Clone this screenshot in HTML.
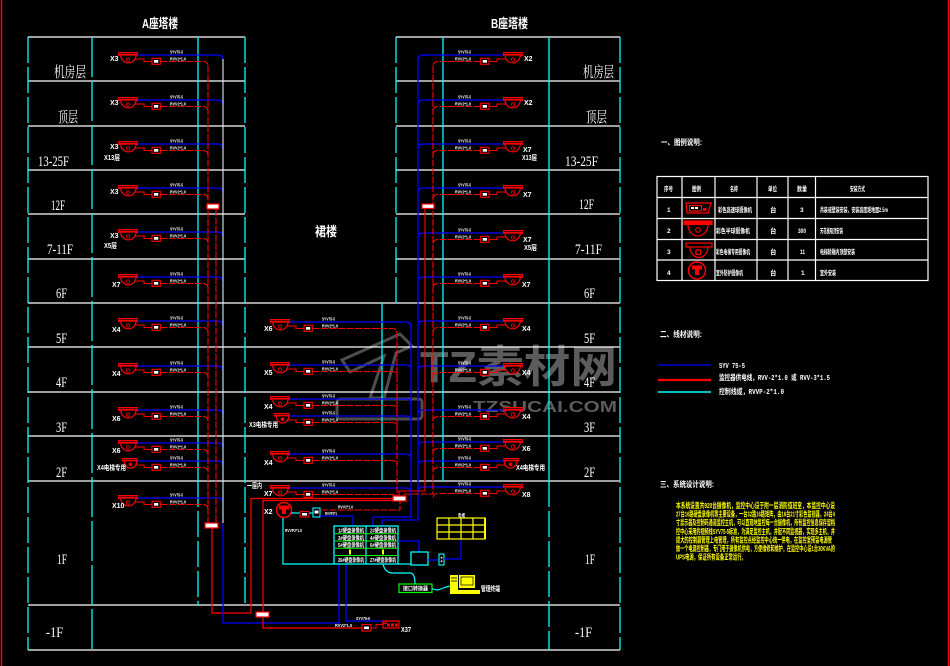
<!DOCTYPE html>
<html><head><meta charset="utf-8"><title>监控系统图</title>
<style>
html,body{margin:0;padding:0;background:#000;width:950px;height:666px;overflow:hidden}
svg{display:block}
.fl{font-family:"Liberation Serif","Noto Serif CJK SC",serif;font-size:15px;fill:#fff}
.ti{font-family:"Liberation Sans","Noto Sans CJK SC",sans-serif;font-size:13px;font-weight:bold;fill:#fff}
.xl{font-family:"Liberation Sans","Noto Sans CJK SC",sans-serif;font-size:7px;font-weight:bold;fill:#fff}
.t{font-family:"Liberation Sans","Noto Sans CJK SC",sans-serif;font-size:4.5px;font-weight:bold;fill:#fff}
.tt{font-family:"Liberation Sans","Noto Sans CJK SC",sans-serif;font-size:6.5px;font-weight:bold;fill:#fff}
.h{font-family:"Liberation Sans","Noto Sans CJK SC",sans-serif;font-size:8px;font-weight:bold;fill:#fff}
.lg{font-family:"Liberation Mono","Noto Sans CJK SC",monospace;font-size:7.5px;font-weight:bold;fill:#fff}
.yp{font-family:"Liberation Sans","Noto Sans CJK SC",sans-serif;font-size:7.5px;font-weight:bold;fill:#ff0}
.wm{font-family:"Liberation Sans","Noto Sans CJK SC",sans-serif;font-weight:bold;fill:#5c5c5c}
</style></head>
<body>
<svg width="950" height="666" viewBox="0 0 950 666" xmlns="http://www.w3.org/2000/svg">
<rect width="950" height="666" fill="#000"/>
<defs>
<g id="cam">
 <rect x="0" y="0" width="20" height="3.8" fill="#f00"/>
 <line x1="0.5" y1="1.6" x2="19.5" y2="1.6" stroke="#000" stroke-width="0.6"/>
 <path d="M2.7,3.8 A7.7,8 0 0 0 18,3.8" fill="#000" stroke="#f00" stroke-width="1.2"/>
 <circle cx="10" cy="7.5" r="1.7" fill="none" stroke="#f00" stroke-width="0.8"/>
 <path d="M17,7 H26 V9.5 H34" fill="none" stroke="#f00" stroke-width="1"/>
 <rect x="34" y="6.3" width="8.3" height="6" fill="#000" stroke="#f00" stroke-width="1.1"/>
 <rect x="36" y="8" width="4.3" height="2.7" fill="#fff"/>
</g>
<g id="camE">
 <rect x="3.7" y="0" width="16" height="3.4" fill="#f00"/>
 <line x1="4.2" y1="1.5" x2="19.2" y2="1.5" stroke="#000" stroke-width="0.6"/>
 <path d="M6.3,3.4 A6.2,6.6 0 0 0 18.7,3.4" fill="#000" stroke="#f00" stroke-width="1.2"/>
 <circle cx="12.5" cy="6.3" r="1.8" fill="#f00"/>
 <path d="M18,7 H26 V9.5 H34" fill="none" stroke="#f00" stroke-width="1"/>
 <rect x="34" y="6.3" width="8.3" height="6" fill="#000" stroke="#f00" stroke-width="1.1"/>
 <rect x="36" y="8" width="4.3" height="2.7" fill="#fff"/>
</g>
<g id="rowL"><use href="#cam" x="118"/><path d="M138,3 H218 Q223,3 223,8" stroke="#00f" fill="none" stroke-width="1.3"/><path d="M160.5,9.5 H203 Q208,9.5 208,14.5" stroke="#f00" fill="none" stroke-width="1.1" stroke-dasharray="7 1.5"/></g>
<g id="rowLE"><use href="#camE" x="118"/><path d="M138,3 H218 Q223,3 223,8" stroke="#00f" fill="none" stroke-width="1.3"/><path d="M160.5,9.5 H203 Q208,9.5 208,14.5" stroke="#f00" fill="none" stroke-width="1.1" stroke-dasharray="7 1.5"/></g>
<g id="rowM"><use href="#cam" x="270"/><path d="M290,3 H406 Q411,3 411,8" stroke="#00f" fill="none" stroke-width="1.3"/><path d="M312.5,9.5 H392 Q397,9.5 397,14.5" stroke="#f00" fill="none" stroke-width="1.1" stroke-dasharray="7 1.5"/></g>
<g id="rowME"><use href="#camE" x="270"/><path d="M290,3 H406 Q411,3 411,8" stroke="#00f" fill="none" stroke-width="1.3"/><path d="M312.5,9.5 H392 Q397,9.5 397,14.5" stroke="#f00" fill="none" stroke-width="1.1" stroke-dasharray="7 1.5"/></g>
</defs>

<!-- watermark (behind) -->
<g fill="none" stroke="#4e4e4e" stroke-width="3">
 <polygon points="342,360 400,334 412,346 396,353 384,398 370,398 384,356 350,372"/>
 <rect x="337" y="399" width="85" height="20" rx="3"/>
</g>
<text class="wm" x="420" y="382" font-size="44" textLength="197" lengthAdjust="spacingAndGlyphs">TZ素材网</text>
<text class="wm" x="473" y="412" font-size="16" textLength="144" lengthAdjust="spacingAndGlyphs">TZSUCAI.COM</text>

<!-- outer red border lines -->
<line x1="1.5" y1="0" x2="1.5" y2="666" stroke="#f00" stroke-width="1.5"/>
<line x1="948.5" y1="0" x2="948.5" y2="666" stroke="#f00" stroke-width="1.5"/>

<!-- white floor lines -->
<g stroke="#fff" stroke-width="1.2">
 <line x1="28" y1="37" x2="245" y2="37"/><line x1="28" y1="81" x2="245" y2="81"/>
 <line x1="28" y1="126" x2="245" y2="126"/><line x1="28" y1="170" x2="245" y2="170"/>
 <line x1="28" y1="214" x2="245" y2="214"/><line x1="28" y1="259" x2="245" y2="259"/>
 <line x1="396" y1="37" x2="620" y2="37"/><line x1="396" y1="81" x2="620" y2="81"/>
 <line x1="396" y1="126" x2="620" y2="126"/><line x1="396" y1="170" x2="620" y2="170"/>
 <line x1="396" y1="214" x2="620" y2="214"/><line x1="396" y1="259" x2="620" y2="259"/>
 <line x1="28" y1="303" x2="620" y2="303"/><line x1="28" y1="347" x2="620" y2="347"/>
 <line x1="28" y1="392" x2="620" y2="392"/><line x1="28" y1="436" x2="620" y2="436"/>
 <line x1="28" y1="481" x2="620" y2="481"/><line x1="28" y1="605" x2="620" y2="605"/>
 <line x1="28" y1="650" x2="620" y2="650"/>
</g>

<!-- cyan columns -->
<g stroke="#0ff" stroke-width="1.3" fill="none">
 <line x1="28" y1="37" x2="28" y2="650" stroke-dasharray="26 4"/>
 <line x1="92" y1="37" x2="92" y2="650" stroke-dasharray="40 4"/>
 <line x1="198" y1="37" x2="198" y2="481"/>
 <line x1="198" y1="481" x2="198" y2="605" stroke-dasharray="26 4"/>
 <line x1="245" y1="37" x2="245" y2="605" stroke-dasharray="26 4"/>
 <line x1="382" y1="303" x2="382" y2="481"/>
 <line x1="396" y1="37" x2="396" y2="303" stroke-dasharray="26 4"/>
 <line x1="443" y1="37" x2="443" y2="481"/>
 <line x1="549" y1="37" x2="549" y2="481"/>
 <line x1="549" y1="481" x2="549" y2="650" stroke-dasharray="26 4"/>
 <line x1="620" y1="37" x2="620" y2="650" stroke-dasharray="26 4"/>
</g>

<!-- titles -->
<text class="ti" x="142" y="28" textLength="36" lengthAdjust="spacingAndGlyphs">A座塔楼</text>
<text class="ti" x="491" y="28" textLength="37" lengthAdjust="spacingAndGlyphs">B座塔楼</text>
<text class="ti" x="315" y="236" textLength="22" lengthAdjust="spacingAndGlyphs">裙楼</text>

<!-- floor labels left -->
<text class="fl" x="54" y="77" textLength="32" lengthAdjust="spacingAndGlyphs">机房层</text>
<text class="fl" x="58" y="122" textLength="20" lengthAdjust="spacingAndGlyphs">顶层</text>
<text class="fl" x="38" y="166" textLength="31" lengthAdjust="spacingAndGlyphs">13-25F</text>
<text class="fl" x="51" y="210" textLength="14" lengthAdjust="spacingAndGlyphs">12F</text>
<text class="fl" x="47" y="254" textLength="26" lengthAdjust="spacingAndGlyphs">7-11F</text>
<text class="fl" x="56" y="298" textLength="11" lengthAdjust="spacingAndGlyphs">6F</text>
<text class="fl" x="56" y="343" textLength="11" lengthAdjust="spacingAndGlyphs">5F</text>
<text class="fl" x="56" y="387" textLength="11" lengthAdjust="spacingAndGlyphs">4F</text>
<text class="fl" x="56" y="432" textLength="11" lengthAdjust="spacingAndGlyphs">3F</text>
<text class="fl" x="56" y="477" textLength="11" lengthAdjust="spacingAndGlyphs">2F</text>
<text class="fl" x="57" y="564" textLength="10" lengthAdjust="spacingAndGlyphs">1F</text>
<text class="fl" x="46" y="637" textLength="17" lengthAdjust="spacingAndGlyphs">-1F</text>
<!-- floor labels right -->
<text class="fl" x="583" y="77" textLength="31" lengthAdjust="spacingAndGlyphs">机房层</text>
<text class="fl" x="586" y="122" textLength="21" lengthAdjust="spacingAndGlyphs">顶层</text>
<text class="fl" x="565" y="166" textLength="33" lengthAdjust="spacingAndGlyphs">13-25F</text>
<text class="fl" x="579" y="209" textLength="15" lengthAdjust="spacingAndGlyphs">12F</text>
<text class="fl" x="575" y="254" textLength="27" lengthAdjust="spacingAndGlyphs">7-11F</text>
<text class="fl" x="584" y="298" textLength="11" lengthAdjust="spacingAndGlyphs">6F</text>
<text class="fl" x="584" y="343" textLength="11" lengthAdjust="spacingAndGlyphs">5F</text>
<text class="fl" x="584" y="387" textLength="11" lengthAdjust="spacingAndGlyphs">4F</text>
<text class="fl" x="584" y="432" textLength="11" lengthAdjust="spacingAndGlyphs">3F</text>
<text class="fl" x="584" y="477" textLength="11" lengthAdjust="spacingAndGlyphs">2F</text>
<text class="fl" x="585" y="564" textLength="10" lengthAdjust="spacingAndGlyphs">1F</text>
<text class="fl" x="575" y="637" textLength="17" lengthAdjust="spacingAndGlyphs">-1F</text>

<!-- left tower rows -->
<use href="#rowL" y="52"/><use href="#rowL" y="97"/><use href="#rowL" y="141"/>
<use href="#rowL" y="185"/><use href="#rowL" y="229"/><use href="#rowL" y="274"/>
<use href="#rowL" y="318"/><use href="#rowL" y="363"/><use href="#rowL" y="407"/>
<use href="#rowL" y="440"/><use href="#rowLE" y="458"/><use href="#rowL" y="495"/>

<!-- B tower rows (mirrored) -->
<g transform="translate(641,0) scale(-1,1)">
<use href="#rowL" y="52"/><use href="#rowL" y="97"/><use href="#rowL" y="141"/>
<use href="#rowL" y="185"/><use href="#rowL" y="230"/><use href="#rowL" y="274"/>
<use href="#rowL" y="318"/><use href="#rowL" y="363"/><use href="#rowL" y="407"/>
<use href="#rowL" y="439"/><use href="#rowLE" y="458"/><use href="#rowL" y="484"/>
</g>

<!-- middle rows -->
<use href="#rowM" y="319"/><use href="#rowM" y="362"/><use href="#rowM" y="396"/>
<use href="#rowME" y="413"/><use href="#rowM" y="451"/><use href="#rowM" y="485"/>

<!-- tiny cable labels -->
<g class="t">
<text x="170" y="53.5" textLength="13" lengthAdjust="spacingAndGlyphs">SYV75-5</text><text x="170" y="60.7" textLength="16" lengthAdjust="spacingAndGlyphs">RVV2*1.0</text>
<text x="170" y="98.5" textLength="13" lengthAdjust="spacingAndGlyphs">SYV75-5</text><text x="170" y="105.7" textLength="16" lengthAdjust="spacingAndGlyphs">RVV2*1.0</text>
<text x="170" y="142.5" textLength="13" lengthAdjust="spacingAndGlyphs">SYV75-5</text><text x="170" y="149.7" textLength="16" lengthAdjust="spacingAndGlyphs">RVV2*1.0</text>
<text x="170" y="186.5" textLength="13" lengthAdjust="spacingAndGlyphs">SYV75-5</text><text x="170" y="193.7" textLength="16" lengthAdjust="spacingAndGlyphs">RVV2*1.0</text>
<text x="170" y="230.5" textLength="13" lengthAdjust="spacingAndGlyphs">SYV75-5</text><text x="170" y="237.7" textLength="16" lengthAdjust="spacingAndGlyphs">RVV2*1.0</text>
<text x="170" y="275.5" textLength="13" lengthAdjust="spacingAndGlyphs">SYV75-5</text><text x="170" y="282.7" textLength="16" lengthAdjust="spacingAndGlyphs">RVV2*1.0</text>
<text x="170" y="319.5" textLength="13" lengthAdjust="spacingAndGlyphs">SYV75-5</text><text x="170" y="326.7" textLength="16" lengthAdjust="spacingAndGlyphs">RVV2*1.0</text>
<text x="170" y="364.5" textLength="13" lengthAdjust="spacingAndGlyphs">SYV75-5</text><text x="170" y="371.7" textLength="16" lengthAdjust="spacingAndGlyphs">RVV2*1.0</text>
<text x="170" y="408.5" textLength="13" lengthAdjust="spacingAndGlyphs">SYV75-5</text><text x="170" y="415.7" textLength="16" lengthAdjust="spacingAndGlyphs">RVV2*1.0</text>
<text x="170" y="441.5" textLength="13" lengthAdjust="spacingAndGlyphs">SYV75-5</text><text x="170" y="448.7" textLength="16" lengthAdjust="spacingAndGlyphs">RVV2*1.0</text>
<text x="170" y="459.5" textLength="13" lengthAdjust="spacingAndGlyphs">SYV75-5</text><text x="170" y="466.7" textLength="16" lengthAdjust="spacingAndGlyphs">RVV2*1.0</text>
<text x="170" y="496.5" textLength="13" lengthAdjust="spacingAndGlyphs">SYV75-5</text><text x="170" y="503.7" textLength="16" lengthAdjust="spacingAndGlyphs">RVV2*1.0</text>

<text x="458" y="53.5" textLength="13" lengthAdjust="spacingAndGlyphs">SYV75-5</text><text x="455" y="60.7" textLength="16" lengthAdjust="spacingAndGlyphs">RVV2*1.0</text>
<text x="458" y="98.5" textLength="13" lengthAdjust="spacingAndGlyphs">SYV75-5</text><text x="455" y="105.7" textLength="16" lengthAdjust="spacingAndGlyphs">RVV2*1.0</text>
<text x="458" y="142.5" textLength="13" lengthAdjust="spacingAndGlyphs">SYV75-5</text><text x="455" y="149.7" textLength="16" lengthAdjust="spacingAndGlyphs">RVV2*1.0</text>
<text x="458" y="186.5" textLength="13" lengthAdjust="spacingAndGlyphs">SYV75-5</text><text x="455" y="193.7" textLength="16" lengthAdjust="spacingAndGlyphs">RVV2*1.0</text>
<text x="458" y="231.5" textLength="13" lengthAdjust="spacingAndGlyphs">SYV75-5</text><text x="455" y="238.7" textLength="16" lengthAdjust="spacingAndGlyphs">RVV2*1.0</text>
<text x="458" y="275.5" textLength="13" lengthAdjust="spacingAndGlyphs">SYV75-5</text><text x="455" y="282.7" textLength="16" lengthAdjust="spacingAndGlyphs">RVV2*1.0</text>
<text x="458" y="319.5" textLength="13" lengthAdjust="spacingAndGlyphs">SYV75-5</text><text x="455" y="326.7" textLength="16" lengthAdjust="spacingAndGlyphs">RVV2*1.0</text>
<text x="458" y="364.5" textLength="13" lengthAdjust="spacingAndGlyphs">SYV75-5</text><text x="455" y="371.7" textLength="16" lengthAdjust="spacingAndGlyphs">RVV2*1.0</text>
<text x="458" y="408.5" textLength="13" lengthAdjust="spacingAndGlyphs">SYV75-5</text><text x="455" y="415.7" textLength="16" lengthAdjust="spacingAndGlyphs">RVV2*1.0</text>
<text x="458" y="440.5" textLength="13" lengthAdjust="spacingAndGlyphs">SYV75-5</text><text x="455" y="447.7" textLength="16" lengthAdjust="spacingAndGlyphs">RVV2*1.0</text>
<text x="458" y="459.5" textLength="13" lengthAdjust="spacingAndGlyphs">SYV75-5</text><text x="455" y="466.7" textLength="16" lengthAdjust="spacingAndGlyphs">RVV2*1.0</text>
<text x="458" y="485.5" textLength="13" lengthAdjust="spacingAndGlyphs">SYV75-5</text><text x="455" y="492.7" textLength="16" lengthAdjust="spacingAndGlyphs">RVV2*1.0</text>

<text x="322" y="320.5" textLength="13" lengthAdjust="spacingAndGlyphs">SYV75-5</text><text x="322" y="327.7" textLength="16" lengthAdjust="spacingAndGlyphs">RVV2*1.0</text>
<text x="322" y="363.5" textLength="13" lengthAdjust="spacingAndGlyphs">SYV75-5</text><text x="322" y="370.7" textLength="16" lengthAdjust="spacingAndGlyphs">RVV2*1.0</text>
<text x="322" y="397.5" textLength="13" lengthAdjust="spacingAndGlyphs">SYV75-5</text><text x="322" y="404.7" textLength="16" lengthAdjust="spacingAndGlyphs">RVV2*1.0</text>
<text x="322" y="414.5" textLength="13" lengthAdjust="spacingAndGlyphs">SYV75-5</text><text x="322" y="421.7" textLength="16" lengthAdjust="spacingAndGlyphs">RVV2*1.0</text>
<text x="322" y="452.5" textLength="13" lengthAdjust="spacingAndGlyphs">SYV75-5</text><text x="322" y="459.7" textLength="16" lengthAdjust="spacingAndGlyphs">RVV2*1.0</text>
<text x="322" y="486.5" textLength="13" lengthAdjust="spacingAndGlyphs">SYV75-5</text><text x="322" y="493.7" textLength="16" lengthAdjust="spacingAndGlyphs">RVV2*1.0</text>

<text x="325" y="515" textLength="12" lengthAdjust="spacingAndGlyphs">RVVP2*1</text>
<text x="338" y="508.5" textLength="15" lengthAdjust="spacingAndGlyphs">RVV2*1.0</text>
<text x="285" y="532" textLength="17" lengthAdjust="spacingAndGlyphs">RVVP2*1.0</text>
<text x="356" y="620" textLength="14" lengthAdjust="spacingAndGlyphs">SYV75-5</text>
<text x="335" y="627" textLength="17" lengthAdjust="spacingAndGlyphs">RVV2*1.0</text>
<text x="458" y="517" textLength="7" lengthAdjust="spacingAndGlyphs">电视</text>
</g>

<!-- camera count labels -->
<g class="xl">
<text x="110" y="61">X3</text><text x="110" y="105">X3</text><text x="110" y="149">X3</text>
<text x="104" y="160" textLength="16" lengthAdjust="spacingAndGlyphs">X13层</text>
<text x="110" y="194">X3</text><text x="110" y="238">X3</text>
<text x="104" y="248" textLength="13" lengthAdjust="spacingAndGlyphs">X5层</text>
<text x="112" y="287">X7</text><text x="112" y="332">X4</text><text x="112" y="376">X4</text>
<text x="112" y="421">X6</text><text x="112" y="453">X6</text>
<text x="97" y="470" textLength="29" lengthAdjust="spacingAndGlyphs">X4电梯专用</text>
<text x="112" y="508">X10</text>

<text x="524" y="61">X2</text><text x="524" y="105">X2</text>
<text x="523" y="152">X7</text><text x="522" y="160" textLength="15" lengthAdjust="spacingAndGlyphs">X13层</text>
<text x="523" y="197">X7</text>
<text x="523" y="242">X7</text><text x="524" y="250" textLength="13" lengthAdjust="spacingAndGlyphs">X5层</text>
<text x="522" y="287">X7</text><text x="522" y="331">X4</text><text x="522" y="375">X4</text>
<text x="522" y="419">X4</text><text x="522" y="451">X6</text>
<text x="516" y="470" textLength="29" lengthAdjust="spacingAndGlyphs">X4电梯专用</text>
<text x="522" y="497">X8</text>

<text x="264" y="331">X6</text><text x="264" y="375">X5</text><text x="264" y="409">X4</text>
<text x="249" y="427" textLength="29" lengthAdjust="spacingAndGlyphs">X3电梯专用</text>
<text x="264" y="465">X4</text>
<text x="247" y="488" textLength="15" lengthAdjust="spacingAndGlyphs">一层内</text>
<text x="264" y="496">X7</text><text x="264" y="514">X2</text>
<text x="401" y="632" textLength="10" lengthAdjust="spacingAndGlyphs">X37</text>
<text x="481" y="591" textLength="19" lengthAdjust="spacingAndGlyphs">管理终端</text>
</g>

<!-- left tower trunks -->
<path d="M208,66 V523" stroke="#f00" stroke-width="1.1" stroke-dasharray="7 1.5" fill="none"/>
<path d="M216,209 V523" stroke="#f00" stroke-width="1.1" stroke-dasharray="7 1.5" fill="none"/>
<path d="M223,59 V523" stroke="#e6e6f0" stroke-width="1.1" fill="none"/>
<rect x="207" y="204" width="12" height="5" fill="#fff" stroke="#f00" stroke-width="1.2"/>
<rect x="205" y="523" width="13" height="5" fill="#fff" stroke="#f00" stroke-width="1.2"/>
<path d="M212,528 V613 H251 V498.5 H393" stroke="#f00" stroke-width="1.2" fill="none"/>
<path d="M223,523 V623 H339 V564" stroke="#00f" stroke-width="1.3" fill="none"/>

<!-- B tower trunks -->
<path d="M418,59 V520 H382 V526" stroke="#00f" stroke-width="1.3" fill="none"/>
<path d="M433,66 V494 H403 V496" stroke="#f00" stroke-width="1.1" stroke-dasharray="7 1.5" fill="none"/>
<path d="M425,209 V491 H399 V496" stroke="#f00" stroke-width="1.1" fill="none"/>
<rect x="422" y="204" width="12" height="4.5" fill="#fff" stroke="#f00" stroke-width="1.2"/>

<!-- middle trunks -->
<path d="M411,326 V517 H373 V526" stroke="#00f" stroke-width="1.3" fill="none"/>
<path d="M397,333 V496" stroke="#f00" stroke-width="1.1" stroke-dasharray="7 1.5" fill="none"/>
<rect x="393" y="496" width="13" height="5" fill="#fff" stroke="#f00" stroke-width="1.2"/>
<path d="M393,500.5 H263 V628 H362" stroke="#f00" stroke-width="1.2" fill="none"/>
<rect x="256" y="612" width="13" height="5" fill="#fff" stroke="#f00" stroke-width="1.2"/>
<rect x="362" y="624.5" width="9" height="6.5" fill="#000" stroke="#f00" stroke-width="1.1"/>
<rect x="364" y="626.5" width="5" height="2.6" fill="#fff"/>
<path d="M371,628 H376 V624.5 H383" stroke="#f00" stroke-width="1" fill="none"/>
<path d="M346,564 V621 H383" stroke="#00f" stroke-width="1.3" fill="none"/>
<!-- X37 device -->
<path d="M383,621 H399 V628 H383 Z M386,621 V623.5 H383" fill="none" stroke="#f00" stroke-width="1.2"/>
<rect x="387" y="623.5" width="3" height="3" fill="#f00"/><rect x="391" y="623.5" width="3" height="3" fill="#f00"/><rect x="395" y="623.5" width="2.5" height="3" fill="#f00"/>

<!-- X2 round camera -->
<circle cx="284" cy="510" r="7.5" fill="none" stroke="#f00" stroke-width="1.5"/>
<rect x="279" y="505.5" width="10" height="4" fill="#f00"/>
<rect x="282" y="509" width="4" height="5" fill="#f00"/>
<path d="M291,513 H313" stroke="#0ff" stroke-width="1.2"/>
<rect x="300" y="511.5" width="9" height="5.5" fill="#000" stroke="#f00" stroke-width="1.1"/>
<rect x="302" y="513" width="5" height="2.6" fill="#fff"/>
<rect x="313" y="508" width="7" height="9" fill="#000" stroke="#0ff" stroke-width="1.1"/>
<rect x="314.5" y="510.5" width="4" height="3" fill="#fff"/>
<path d="M320,516 H353 V526" stroke="#00f" stroke-width="1.3" fill="none"/>
<path d="M321,510 H400 V501" stroke="#f00" stroke-width="1.1" stroke-dasharray="7 1.5" fill="none"/>
<path d="M283,518 V564 H334" stroke="#0ff" stroke-width="1.2" fill="none"/>

<!-- control box -->
<rect x="334" y="526" width="64" height="38" fill="#000" stroke="#0ff" stroke-width="1.3"/>
<line x1="366" y1="526" x2="366" y2="564" stroke="#0ff" stroke-width="1.2"/>
<g stroke="#0f0" stroke-width="1">
<line x1="335" y1="533.8" x2="397" y2="533.8"/><line x1="335" y1="541" x2="397" y2="541"/>
<line x1="335" y1="548.2" x2="397" y2="548.2"/><line x1="335" y1="555.5" x2="397" y2="555.5"/>
</g>
<g class="t" style="font-size:5.5px">
<text x="338" y="532.5" textLength="26" lengthAdjust="spacingAndGlyphs">1#硬盘录像机</text>
<text x="370" y="532.5" textLength="26" lengthAdjust="spacingAndGlyphs">2#硬盘录像机</text>
<text x="338" y="539.8" textLength="26" lengthAdjust="spacingAndGlyphs">3#硬盘录像机</text>
<text x="370" y="539.8" textLength="26" lengthAdjust="spacingAndGlyphs">4#硬盘录像机</text>
<text x="338" y="547" textLength="26" lengthAdjust="spacingAndGlyphs">5#硬盘录像机</text>
<text x="370" y="547" textLength="26" lengthAdjust="spacingAndGlyphs">6#硬盘录像机</text>
<text x="338" y="562" textLength="26" lengthAdjust="spacingAndGlyphs">26#硬盘录像机</text>
<text x="370" y="562" textLength="26" lengthAdjust="spacingAndGlyphs">27#硬盘录像机</text>
<text x="413" y="560.5" textLength="13" lengthAdjust="spacingAndGlyphs">控制键盘</text>
<text x="403" y="590.5" textLength="25" lengthAdjust="spacingAndGlyphs">接口转换器</text>
</g>
<rect x="349" y="549.5" width="2" height="5" fill="#ff0"/>
<rect x="382" y="549.5" width="2" height="5" fill="#ff0"/>

<path d="M398,564 H411" stroke="#0ff" stroke-width="1.2"/>
<path d="M398,541 H419 V552" stroke="#00f" stroke-width="1.3" fill="none"/>
<rect x="411" y="552" width="17" height="13" fill="#000" stroke="#0ff" stroke-width="1.3"/>
<path d="M428,560 H439" stroke="#00f" stroke-width="1.3"/>
<rect x="439" y="554" width="5" height="11" fill="#000" stroke="#0ff" stroke-width="1.1"/>
<rect x="440.8" y="557" width="1.5" height="1.5" fill="#fff"/><rect x="440.8" y="560.5" width="1.5" height="1.5" fill="#fff"/>
<path d="M444,559 H461 V539" stroke="#00f" stroke-width="1.3" fill="none"/>

<!-- yellow monitor grid -->
<g stroke="#ff0" stroke-width="1.2" fill="none">
<rect x="437" y="518" width="48" height="21"/>
<line x1="449" y1="518" x2="449" y2="539"/><line x1="461" y1="518" x2="461" y2="539"/>
<line x1="473" y1="518" x2="473" y2="539"/>
<line x1="437" y1="525" x2="485" y2="525"/><line x1="437" y1="532" x2="485" y2="532"/>
<line x1="485" y1="518" x2="485" y2="539" stroke-width="2"/>
</g>

<!-- cyan wavy + green box + computer -->
<path d="M383,564 Q385,573 393,573 H411 Q415,574 415,584" stroke="#0ff" stroke-width="1.2" fill="none"/>
<rect x="399" y="584" width="33" height="8.5" fill="#000" stroke="#0f0" stroke-width="1.2"/>
<g class="t" style="font-size:5.5px"><text x="403" y="590.5" textLength="25" lengthAdjust="spacingAndGlyphs">接口转换器</text></g>
<path d="M432,588.5 Q437,591 441,589 T450,586" stroke="#0ff" stroke-width="1.2" fill="none"/>
<rect x="450" y="575" width="8" height="19" fill="#ff0"/>
<line x1="451" y1="578" x2="457" y2="578" stroke="#000" stroke-width="0.8"/>
<line x1="451" y1="581" x2="457" y2="581" stroke="#000" stroke-width="0.8"/>
<rect x="459" y="575" width="16" height="13" fill="#ff0"/>
<rect x="461" y="577" width="12" height="8" fill="none" stroke="#000" stroke-width="0.7"/>
<rect x="454" y="590" width="26" height="4" fill="#ff0"/>

<!-- legend section 1 -->
<text class="h" x="661" y="145" textLength="41" lengthAdjust="spacingAndGlyphs">一、图例说明:</text>
<g stroke="#fff" stroke-width="1.2" fill="none">
<rect x="657" y="176.5" width="271" height="104"/>
<line x1="682" y1="176.5" x2="682" y2="280.5"/><line x1="715" y1="176.5" x2="715" y2="280.5"/>
<line x1="757" y1="176.5" x2="757" y2="280.5"/><line x1="788" y1="176.5" x2="788" y2="280.5"/>
<line x1="815.5" y1="176.5" x2="815.5" y2="280.5"/>
<line x1="657" y1="197.5" x2="928" y2="197.5"/><line x1="657" y1="218.5" x2="928" y2="218.5"/>
<line x1="657" y1="239.5" x2="928" y2="239.5"/><line x1="657" y1="260" x2="928" y2="260"/>
</g>
<g class="tt">
<text x="664" y="191" textLength="9" lengthAdjust="spacingAndGlyphs">序号</text>
<text x="692" y="191" textLength="9" lengthAdjust="spacingAndGlyphs">图例</text>
<text x="730" y="191" textLength="8" lengthAdjust="spacingAndGlyphs">名称</text>
<text x="768" y="191" textLength="9" lengthAdjust="spacingAndGlyphs">单位</text>
<text x="797" y="191" textLength="10" lengthAdjust="spacingAndGlyphs">数量</text>
<text x="850" y="191" textLength="15" lengthAdjust="spacingAndGlyphs">安装方式</text>

<text x="667" y="212">1</text>
<text x="718" y="212" textLength="34" lengthAdjust="spacingAndGlyphs">彩色高速球摄像机</text>
<text x="770" y="212">台</text><text x="800" y="212">3</text>
<text x="820" y="212" textLength="68" lengthAdjust="spacingAndGlyphs">吊装或壁装安装，安装高度距地面2.5m</text>

<text x="667" y="233">2</text>
<text x="716" y="233" textLength="34" lengthAdjust="spacingAndGlyphs">彩色半球摄像机</text>
<text x="770" y="233">台</text><text x="798" y="233" textLength="8" lengthAdjust="spacingAndGlyphs">300</text>
<text x="820" y="233" textLength="23" lengthAdjust="spacingAndGlyphs">天花板吸顶安装</text>

<text x="667" y="254">3</text>
<text x="716" y="254" textLength="34" lengthAdjust="spacingAndGlyphs">彩色电梯专用摄像机</text>
<text x="770" y="254">台</text><text x="800" y="254" textLength="5" lengthAdjust="spacingAndGlyphs">11</text>
<text x="820" y="254" textLength="35" lengthAdjust="spacingAndGlyphs">电梯轿厢内顶部安装</text>

<text x="667" y="275">4</text>
<text x="716" y="275" textLength="27" lengthAdjust="spacingAndGlyphs">室外防护摄像机</text>
<text x="770" y="275">台</text><text x="801" y="275">1</text>
<text x="820" y="275" textLength="16" lengthAdjust="spacingAndGlyphs">室外安装</text>
</g>
<!-- legend icons -->
<g stroke="#f00" stroke-width="1.2" fill="none">
<path d="M686,203 H711 L708,213 H687 Z"/>
<rect x="689.5" y="205.5" width="12" height="5.5"/>
<rect x="684" y="221" width="28" height="3.5" fill="#f00"/>
<path d="M688,224.5 A10,11.5 0 0 0 708,224.5"/>
<circle cx="698" cy="230" r="2.3"/>
<rect x="686" y="243" width="26" height="4"/>
<path d="M690,247 A9,10.5 0 0 0 708,247"/>
<rect x="696" y="250" width="4.5" height="4.5"/>
<circle cx="697" cy="270.5" r="8.5" stroke-width="1.5"/>
</g>
<rect x="703" y="208" width="3.5" height="3" fill="#f00"/>
<rect x="692" y="265.5" width="10" height="4" fill="#f00"/>
<rect x="695" y="269" width="4" height="6" fill="#f00"/>
<g fill="#fff"><rect x="691" y="207" width="3" height="2"/><rect x="695" y="207" width="3" height="2"/></g>

<!-- legend section 2 -->
<text class="h" x="660" y="337" textLength="42" lengthAdjust="spacingAndGlyphs">二、线材说明:</text>
<line x1="658" y1="365" x2="711" y2="365" stroke="#00f" stroke-width="1.3"/>
<line x1="658" y1="380" x2="711" y2="380" stroke="#f00" stroke-width="2.2"/>
<line x1="658" y1="392" x2="711" y2="392" stroke="#0ff" stroke-width="1.5"/>
<text class="lg" x="719" y="368" textLength="26" lengthAdjust="spacingAndGlyphs">SYV 75-5</text>
<text class="lg" x="719" y="380" textLength="111" lengthAdjust="spacingAndGlyphs">监控器供电线，RVV-2*1.0 或 RVV-3*1.5</text>
<text class="lg" x="719" y="394" textLength="65" lengthAdjust="spacingAndGlyphs">控制线缆，RVVP-2*1.0</text>

<!-- section 3 -->
<text class="h" x="660" y="487" textLength="54" lengthAdjust="spacingAndGlyphs">三、系统设计说明:</text>
<g class="yp">
<text x="676" y="508" textLength="159" lengthAdjust="spacingAndGlyphs">本系统设置共920台摄像机，监控中心设于附一层消防值班室，本监控中心设</text>
<text x="676" y="516.5" textLength="159" lengthAdjust="spacingAndGlyphs">27台16路硬盘录像机等主要设备，一台32路16路矩阵，由16台21寸彩色监视器，24台4</text>
<text x="676" y="525" textLength="159" lengthAdjust="spacingAndGlyphs">寸显示器及控制码通道监控主机，可以直观地监控每一台摄像机，所有监控信息保存留档</text>
<text x="676" y="534" textLength="159" lengthAdjust="spacingAndGlyphs">控中心采用的视频线SYV75-5标准，为满足监控主机，并配不同监视器，实现多主机，并</text>
<text x="676" y="542.5" textLength="156" lengthAdjust="spacingAndGlyphs">提大的控制器管理上电管理，所有监控点经监控中心统一供电，在监控室预留电源管</text>
<text x="676" y="551" textLength="159" lengthAdjust="spacingAndGlyphs">做一个电源控制器，专门用于摄像机供电，方便维修和维护，在监控中心设1台30KVA的</text>
<text x="676" y="559.5" textLength="70" lengthAdjust="spacingAndGlyphs">UPS电源，保证所有设备正常运行。</text>
</g>
</svg>
</body></html>
